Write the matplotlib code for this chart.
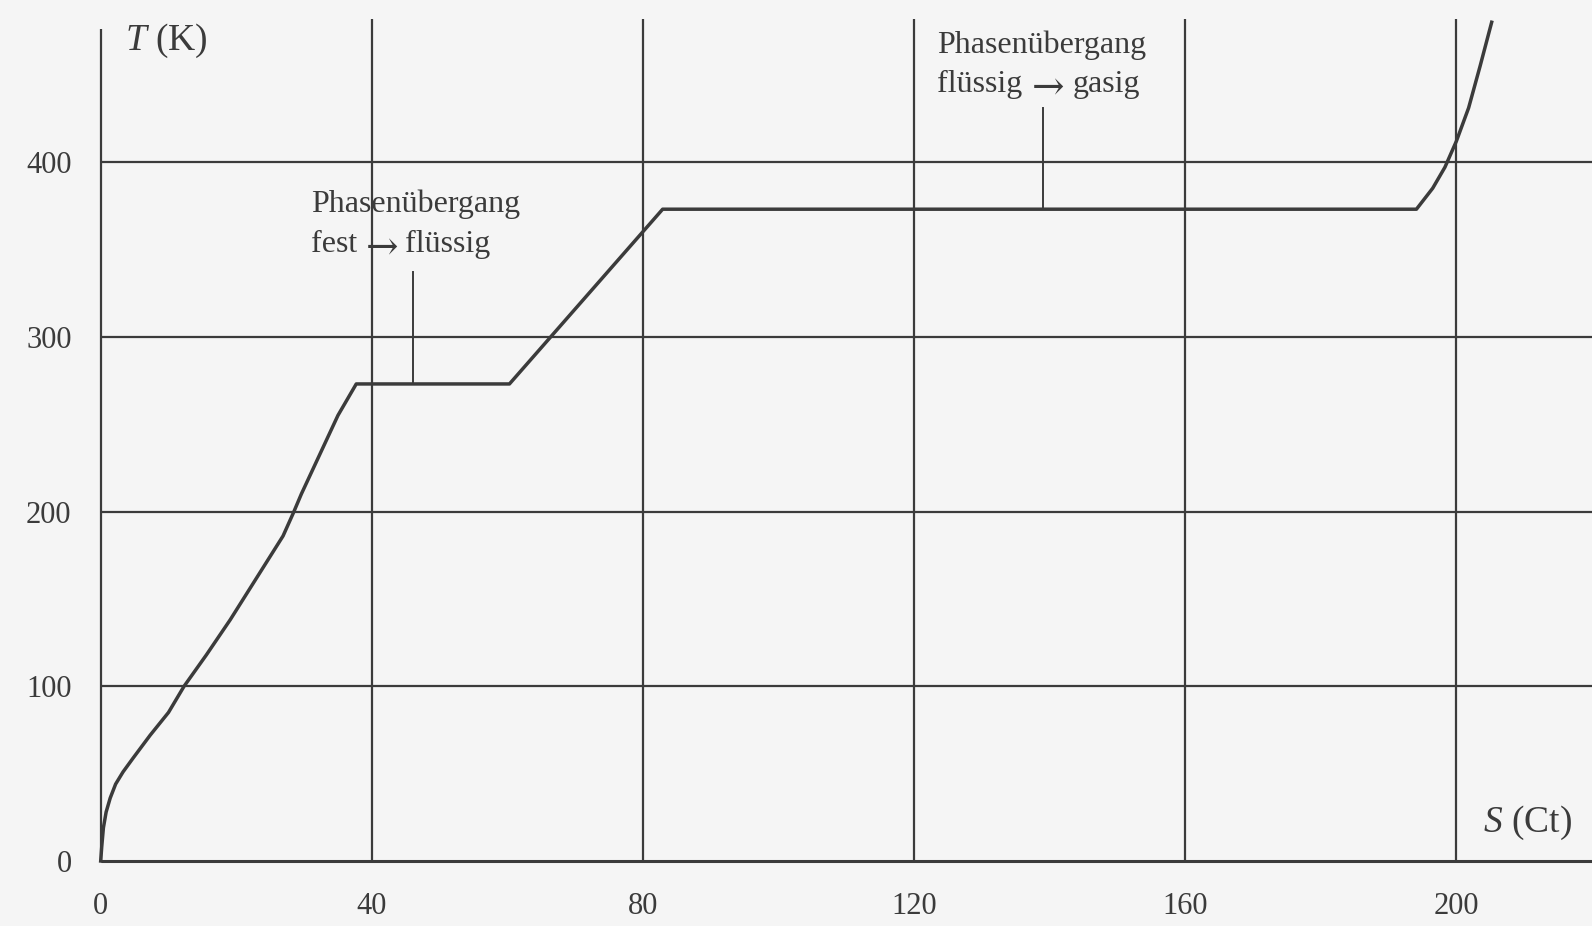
import matplotlib
matplotlib.use("Agg")
import matplotlib.pyplot as plt

# ---- data ----
S_curve = [0.0, 0.15, 0.4, 0.8, 1.4, 2.2, 3.3, 4.8, 7.3, 10.0, 12.3, 15.6, 19.1,
           23.0, 26.9, 28.4, 29.6, 35.0, 37.7, 60.3, 82.9, 194.1, 196.5,
           198.3, 200.0, 201.8, 203.5, 205.2]
T_curve = [0.0, 8, 19, 28, 36, 44, 51, 59, 72, 85, 100, 118, 138,
           162, 186, 199, 210, 255, 273, 273, 373, 373, 385,
           397, 412, 431, 455, 480]

x_ticks = [0, 40, 80, 120, 160, 200]
y_ticks = [0, 100, 200, 300, 400]
x_label = "$S$ (Ct)"
y_label = "$T$ (K)"

ann_title = "Phasenübergang"
ann1_from, ann1_to = "fest", "flüssig"
ann2_from, ann2_to = "flüssig", "gasig"
arrow_char = "\u2192"
ann1_S, ann1_T, ann1_top = 46.1, 273.0, 337.0     # pointer line
ann2_S, ann2_T, ann2_top = 139.0, 373.0, 431.0

# ---- style ----
ink = "#3b3b3b"
bg = "#f5f5f5"
serif = ["Liberation Serif", "DejaVu Serif"]
plt.rcParams["mathtext.fontset"] = "custom"
plt.rcParams["mathtext.it"] = "Liberation Serif:italic"
plt.rcParams["mathtext.rm"] = "Liberation Serif"

fig = plt.figure(figsize=(15.92, 9.26), dpi=100, facecolor=bg)
ax = fig.add_axes([0.06325, 0.0702, 0.93675, 0.9190])
ax.set_facecolor(bg)
ax.set_xlim(0, 220.0)
ax.set_ylim(0, 487)

for s in ax.spines.values():
    s.set_visible(False)

# axes lines
ax.plot([0, 220], [0, 0], color=ink, lw=2.2, solid_capstyle="butt", clip_on=False, zorder=3)
ax.plot([0, 0], [0, 476], color=ink, lw=1.6, solid_capstyle="butt", clip_on=False, zorder=3)

# grid
for xv in x_ticks[1:]:
    ax.plot([xv, xv], [0, 482], color=ink, lw=1.6, solid_capstyle="butt", zorder=2)
for yv in y_ticks[1:]:
    ax.plot([0, 220], [yv, yv], color=ink, lw=1.6, solid_capstyle="butt", zorder=2)

# curve
ax.plot(S_curve, T_curve, color=ink, lw=2.5, solid_joinstyle="round", zorder=4, clip_on=False)

# pointer lines
ax.plot([ann1_S, ann1_S], [ann1_T, ann1_top], color=ink, lw=1.4, zorder=3)
ax.plot([ann2_S, ann2_S], [ann2_T, ann2_top], color=ink, lw=1.4, zorder=3)

# ticks
ax.set_xticks(x_ticks)
ax.set_xticklabels([str(v) for v in x_ticks])
ax.set_yticks(y_ticks)
ax.set_yticklabels([str(v) for v in y_ticks])
ax.tick_params(axis="both", length=0, labelsize=22, labelcolor=ink)
ax.tick_params(axis="x", pad=22)
ax.tick_params(axis="y", pad=21)
for lab in ax.get_xticklabels() + ax.get_yticklabels():
    lab.set_family(serif)

# axis titles
ax.text(3.6, 464, y_label, family=serif, fontsize=27, color=ink, va="baseline", ha="left")
ax.text(203.9, 16.8, x_label, family=serif, fontsize=27, color=ink, va="baseline", ha="left")

# annotations
tk = dict(family=serif, fontsize=23, color=ink, va="baseline", ha="left")
ak = dict(family=["DejaVu Serif"], fontsize=28, color=ink, va="baseline", ha="center")
# first
ax.text(31.0, 371.2, ann_title, **tk)
ax.text(31.0, 348.7, ann1_from, **tk)
ax.text(41.45, 345.0, arrow_char, **ak)
ax.text(44.9, 348.7, ann1_to, **tk)
# second
ax.text(123.4, 462.2, ann_title, **tk)
ax.text(123.4, 440.2, ann2_from, **tk)
ax.text(139.8, 436.5, arrow_char, **ak)
ax.text(143.4, 440.2, ann2_to, **tk)

fig.savefig("out.png", dpi=100, facecolor=bg)
